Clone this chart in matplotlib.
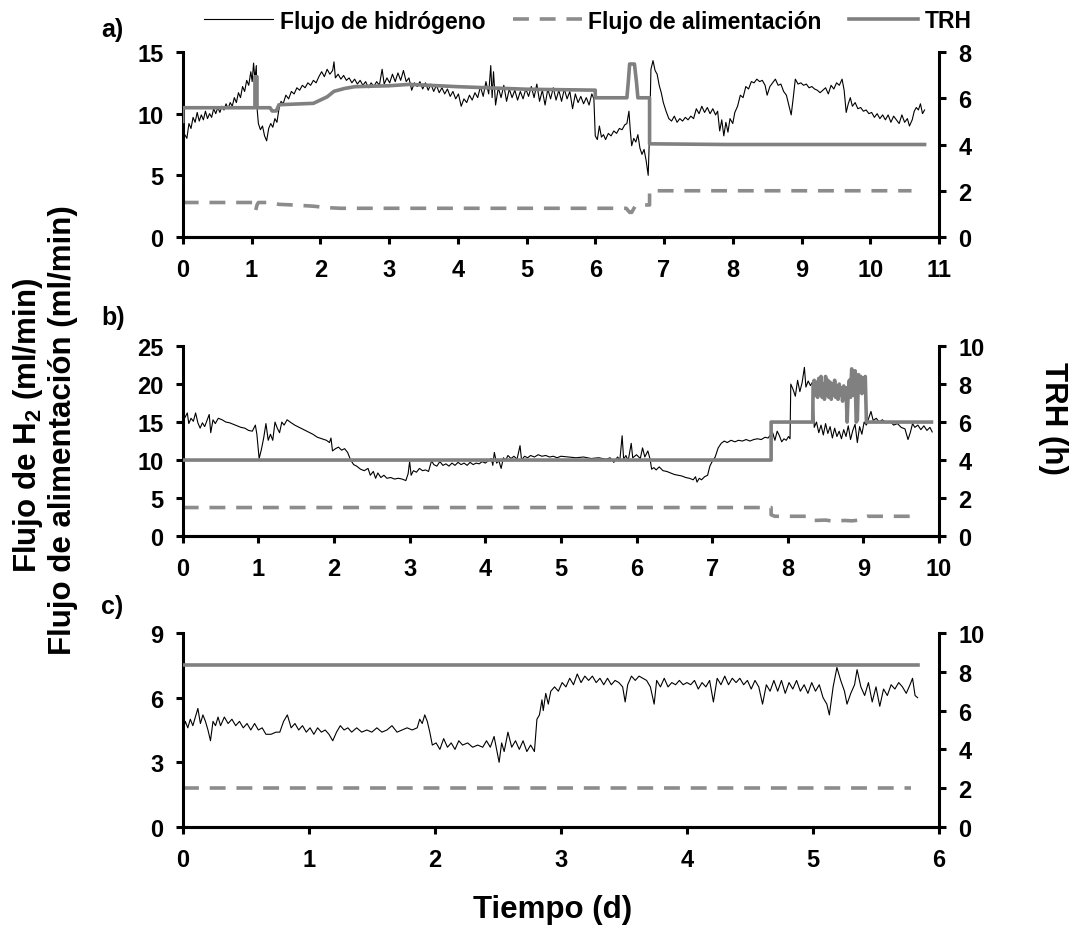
import matplotlib
matplotlib.use("Agg")
import matplotlib.pyplot as plt
from matplotlib.lines import Line2D

plt.rcParams["font.family"] = ["Liberation Sans", "DejaVu Sans"]
plt.rcParams["font.weight"] = "bold"
plt.rcParams["mathtext.fontset"] = "custom"
plt.rcParams["mathtext.rm"] = "Liberation Sans:bold"
plt.rcParams["mathtext.bf"] = "Liberation Sans:bold"

# ---------------- panel a ----------------
a_h2_t = [0.00, 0.03, 0.06, 0.09, 0.12, 0.15, 0.18, 0.21, 0.24, 0.27, 0.30, 0.33, 0.36, 0.39, 0.42,
          0.45, 0.48, 0.51, 0.54, 0.57, 0.60, 0.63, 0.66, 0.69, 0.72, 0.75, 0.78, 0.81, 0.84, 0.87,
          0.90, 0.93, 0.96, 0.99, 1.01, 1.03, 1.05, 1.07, 1.08, 1.10, 1.13, 1.16, 1.19, 1.22, 1.25,
          1.28, 1.31, 1.34, 1.37, 1.40, 1.43, 1.46, 1.50, 1.54, 1.58, 1.62, 1.66, 1.70, 1.74, 1.78,
          1.82, 1.86, 1.90, 1.94, 1.98, 2.02, 2.06, 2.10, 2.14, 2.18, 2.20, 2.22, 2.26, 2.30, 2.34,
          2.38, 2.42, 2.46, 2.50, 2.54, 2.58, 2.62, 2.66, 2.70, 2.74, 2.78, 2.82, 2.86, 2.90, 2.93,
          2.97, 3.01, 3.05, 3.09, 3.13, 3.17, 3.21, 3.25, 3.29, 3.33, 3.37, 3.41, 3.45, 3.49, 3.53,
          3.57, 3.61, 3.65, 3.69, 3.73, 3.77, 3.81, 3.85, 3.89, 3.93, 3.97, 4.01, 4.05, 4.09, 4.13,
          4.17, 4.21, 4.25, 4.29, 4.33, 4.37, 4.41, 4.45, 4.48, 4.50, 4.52, 4.55, 4.59, 4.63, 4.67,
          4.71, 4.75, 4.79, 4.83, 4.87, 4.91, 4.95, 4.99, 5.03, 5.07, 5.11, 5.15, 5.19, 5.23, 5.27,
          5.31, 5.35, 5.39, 5.43, 5.47, 5.51, 5.55, 5.59, 5.63, 5.67, 5.71, 5.75, 5.79, 5.83, 5.87,
          5.91, 5.95, 5.98, 6.00, 6.03, 6.06, 6.09, 6.12, 6.15, 6.19, 6.23, 6.27, 6.31, 6.35, 6.39,
          6.43, 6.46, 6.49, 6.51, 6.53, 6.56, 6.59, 6.62, 6.65, 6.68, 6.71, 6.74, 6.77, 6.79, 6.81,
          6.84, 6.87, 6.90, 6.93, 6.96, 6.99, 7.03, 7.07, 7.11, 7.15, 7.19, 7.23, 7.27, 7.31, 7.35,
          7.39, 7.43, 7.47, 7.51, 7.55, 7.59, 7.63, 7.67, 7.71, 7.75, 7.78, 7.81, 7.84, 7.87, 7.90,
          7.93, 7.96, 8.00, 8.03, 8.07, 8.11, 8.15, 8.19, 8.23, 8.27, 8.31, 8.35, 8.39, 8.43, 8.47,
          8.50, 8.54, 8.58, 8.62, 8.66, 8.70, 8.74, 8.78, 8.82, 8.85, 8.88, 8.91, 8.95, 8.99, 9.03,
          9.07, 9.11, 9.15, 9.19, 9.23, 9.27, 9.31, 9.35, 9.39, 9.43, 9.47, 9.51, 9.55, 9.59, 9.62,
          9.65, 9.68, 9.71, 9.74, 9.78, 9.82, 9.86, 9.90, 9.94, 9.98, 10.02, 10.06, 10.10, 10.14,
          10.18, 10.22, 10.26, 10.30, 10.34, 10.38, 10.42, 10.46, 10.50, 10.54, 10.57, 10.61, 10.64,
          10.67, 10.70, 10.73, 10.76, 10.79]
a_h2 = [7.7, 8.3, 8.0, 9.2, 8.8, 9.7, 9.3, 10.1, 9.4, 9.9, 9.5, 10.2, 9.6, 10.0, 9.7,
        10.4, 10.0, 10.5, 10.1, 10.6, 10.3, 10.8, 10.4, 10.9, 10.6, 11.3, 10.9, 11.7, 11.3, 12.2,
        11.8, 12.7, 12.3, 13.4, 12.6, 14.1, 12.8, 13.9, 10.5, 9.2, 8.7, 9.0, 8.2, 7.8, 8.8,
        9.2, 8.9, 9.6, 9.3, 10.4, 11.0, 10.8, 11.5, 11.2, 11.8, 11.6, 12.1, 11.9, 12.3, 12.1,
        12.5, 12.3, 12.7, 12.5, 13.0, 13.4, 13.0, 13.6, 13.2, 13.5, 14.2, 12.9, 13.2, 12.8, 13.1,
        12.7, 12.9, 12.5, 12.8, 12.4, 12.7, 12.3, 12.6, 12.1, 12.5, 12.2, 12.6, 12.3, 13.6, 12.4,
        12.9, 12.5, 13.2, 12.6, 13.3, 12.7, 13.5, 12.6, 12.9, 11.9, 12.5, 12.2, 12.6, 12.0, 12.5,
        11.9, 12.4, 11.8, 12.3, 11.7, 12.1, 11.6, 12.0, 11.4, 11.8, 11.2, 11.6, 10.6, 11.2, 10.9,
        11.5, 11.1, 11.7, 11.3, 12.2, 11.4, 12.6, 11.6, 13.9, 11.3, 13.4, 10.7, 12.1, 11.3, 12.3,
        11.0, 12.0, 11.3, 11.9, 11.1, 11.8, 11.2, 12.0, 11.4, 12.2, 11.3, 12.4, 11.0, 11.9, 10.7,
        12.0, 11.2, 12.1, 11.1, 11.9, 11.0, 12.0, 11.2, 11.8, 10.4, 11.6, 10.9, 11.4, 10.8, 11.3,
        10.7, 11.6, 11.2, 8.2, 7.9, 9.0, 8.1, 8.3, 7.9, 8.4, 8.2, 8.6, 8.4, 8.8, 8.7,
        9.1, 9.2, 10.2, 8.6, 7.4, 8.0, 7.7, 8.3, 7.2, 6.7, 7.1, 6.2, 5.0, 8.5, 13.6,
        14.3, 13.5, 13.2, 12.3, 11.7, 10.9, 10.2, 9.6, 9.4, 9.8, 9.3, 9.6, 9.4, 9.7, 9.5,
        9.8, 9.6, 10.4, 10.0, 10.6, 10.1, 10.5, 10.0, 10.4, 9.9, 10.2, 8.6, 9.5, 8.2, 9.3,
        8.5, 9.6, 9.2, 10.1, 10.6, 11.5, 11.3, 12.2, 12.0, 12.6, 12.5, 12.8, 12.6, 12.7, 12.3,
        11.5, 12.2, 12.5, 12.8, 12.3, 12.4, 11.8, 11.5, 10.6, 9.9, 11.3, 12.8, 12.4, 12.5, 12.3,
        12.4, 12.1, 12.2, 12.0, 11.9, 11.7, 11.9, 12.1, 11.6, 12.3, 12.0, 12.5, 12.3, 12.8, 11.9,
        10.1, 10.8, 11.3, 10.6, 10.9, 10.4, 10.5, 10.2, 10.3, 10.0, 10.1, 9.7, 10.0, 9.6,
        9.9, 9.5, 9.9, 9.3, 9.8, 9.5, 9.2, 9.9, 9.3, 9.6, 9.0, 9.5, 10.2,
        10.5, 10.3, 10.8, 10.0, 10.3]

a_trh_t = [0, 0, 1.05, 1.05, 1.08, 1.08, 1.27, 1.30, 1.36, 1.40, 1.90, 2.00, 2.10, 2.20, 2.35,
           2.50, 3.00, 3.30, 4.00, 5.00, 6.00, 6.00, 6.46, 6.48, 6.50, 6.57, 6.60, 6.62, 6.79,
           6.79, 7.90, 10.79]
a_trh = [5.0, 5.59, 5.59, 6.93, 6.93, 5.59, 5.59, 5.45, 5.45, 5.72, 5.78, 5.92, 6.06, 6.30, 6.42,
         6.50, 6.54, 6.60, 6.50, 6.39, 6.35, 6.02, 6.02, 6.69, 7.48, 7.48, 6.69, 6.02, 6.02,
         4.03, 4.00, 4.00]

a_feed_t = [0, 1.04, 1.06, 1.08, 1.10, 1.30, 1.40, 1.60, 1.90, 2.10, 2.30, 6.45, 6.50, 6.53,
            6.58, 6.65, 6.79, 6.79, 10.60]
a_feed = [2.8, 2.8, 2.15, 2.6, 2.8, 2.8, 2.65, 2.6, 2.5, 2.38, 2.33, 2.33, 2.0, 2.0,
          2.5, 2.6, 2.6, 3.75, 3.75]

# ---------------- panel b ----------------
b_h2_t = [0.00, 0.03, 0.06, 0.08, 0.11, 0.14, 0.17, 0.20, 0.23, 0.26, 0.29, 0.32, 0.35, 0.37, 0.40,
          0.43, 0.47, 0.52, 0.57, 0.62, 0.67, 0.72, 0.77, 0.82, 0.87, 0.92, 0.96, 0.98, 1.01, 1.04,
          1.07, 1.10, 1.13, 1.16, 1.19, 1.22, 1.25, 1.28, 1.31, 1.34, 1.38, 1.42, 1.48, 1.54, 1.60,
          1.66, 1.72, 1.78, 1.84, 1.90, 1.94, 1.96, 1.98, 2.02, 2.06, 2.10, 2.14, 2.18, 2.22, 2.26,
          2.30, 2.35, 2.40, 2.45, 2.48, 2.52, 2.55, 2.58, 2.62, 2.66, 2.70, 2.75, 2.80, 2.85, 2.90,
          2.95, 2.98, 3.00, 3.02, 3.05, 3.09, 3.13, 3.17, 3.21, 3.25, 3.29, 3.32, 3.36, 3.40, 3.44,
          3.48, 3.52, 3.56, 3.60, 3.64, 3.68, 3.72, 3.76, 3.80, 3.84, 3.88, 3.92, 3.96, 4.00, 4.04,
          4.08, 4.10, 4.12, 4.15, 4.18, 4.21, 4.24, 4.27, 4.30, 4.34, 4.38, 4.42, 4.46, 4.48, 4.52,
          4.56, 4.60, 4.65, 4.70, 4.75, 4.80, 4.85, 4.90, 4.95, 5.00, 5.10, 5.20, 5.30, 5.40, 5.50,
          5.60, 5.65, 5.70, 5.75, 5.78, 5.81, 5.83, 5.86, 5.89, 5.93, 5.95, 6.00, 6.05, 6.08, 6.11,
          6.15, 6.18, 6.20, 6.23, 6.26, 6.30, 6.35, 6.40, 6.45, 6.50, 6.55, 6.60, 6.65, 6.70, 6.75,
          6.78, 6.80, 6.83, 6.86, 6.90, 6.94, 6.97, 7.00, 7.04, 7.08, 7.12, 7.16, 7.20, 7.25, 7.30,
          7.35, 7.40, 7.45, 7.50, 7.55, 7.60, 7.65, 7.70, 7.74, 7.77, 7.80, 7.83, 7.86, 7.89, 7.92,
          7.95, 7.98, 8.01, 8.03, 8.04, 8.07, 8.10, 8.13, 8.16, 8.19, 8.22, 8.24, 8.27, 8.30, 8.33,
          8.35, 8.38, 8.41, 8.44, 8.47, 8.50, 8.53, 8.56, 8.59, 8.62, 8.65, 8.68, 8.71, 8.74, 8.77,
          8.80, 8.83, 8.86, 8.89, 8.92, 8.95, 8.98, 9.01, 9.04, 9.07, 9.10, 9.13, 9.17, 9.21, 9.25,
          9.30, 9.35, 9.40, 9.45, 9.50, 9.55, 9.59, 9.62, 9.65, 9.68, 9.72, 9.76, 9.80, 9.84, 9.88,
          9.91]
b_h2 = [16.5, 15.6, 16.2, 14.8, 15.5, 15.1, 16.2, 14.9, 14.2, 14.9, 14.4, 15.2, 16.0, 13.6, 15.3,
        14.8, 15.5, 15.3, 15.0, 14.9, 14.7, 14.5, 14.3, 14.2, 13.9, 13.8, 14.6, 13.4, 10.2, 11.4,
        12.9, 14.8, 12.6, 13.4, 12.6, 15.0, 14.2, 13.6, 15.0, 14.6, 15.3, 15.0, 14.6, 14.3, 14.0,
        13.7, 13.4, 13.0, 12.8, 12.6, 12.3, 12.9, 11.2, 11.5, 11.7, 11.3, 11.5, 11.0, 10.0, 9.4,
        9.2, 8.8, 8.6, 8.9, 8.0, 8.5, 7.6, 8.3, 7.7, 8.0, 7.6, 7.7, 7.5, 7.6, 7.5,
        7.3, 8.2, 9.8, 8.0, 8.6, 8.4, 8.9, 8.6, 8.7, 8.5, 9.9, 9.4, 9.2, 9.8, 9.3,
        9.5, 9.2, 9.6, 9.3, 9.7, 9.4, 9.6, 9.3, 9.7, 9.4, 9.6, 9.5, 9.8, 9.6, 9.9,
        10.2, 9.3, 11.0, 9.6, 9.9, 8.9, 10.3, 10.0, 10.6, 10.2, 10.5, 10.1, 11.9, 10.0, 10.5,
        10.3, 10.6, 10.4, 10.7, 10.5, 10.6, 10.4, 10.5, 10.3, 10.5, 10.4, 10.3, 10.4, 10.2, 10.3,
        10.1, 10.3, 9.7, 10.4, 10.0, 13.2, 10.1, 10.6, 9.9, 12.2, 10.3, 10.7, 10.2, 11.6, 10.4,
        11.2, 10.1, 8.8, 9.0, 8.7, 9.1, 8.6, 8.5, 8.3, 8.1, 8.0, 7.9, 7.7, 7.6, 7.4,
        7.8, 7.1, 7.6, 7.4, 7.8, 8.0, 9.2, 9.8, 10.4, 11.6, 12.2, 12.5, 12.3, 12.6, 12.4,
        12.6, 12.5, 12.7, 12.5, 12.7, 12.8, 12.7, 13.0, 12.9, 13.3, 13.6, 12.6, 13.8, 13.2, 12.4,
        12.8, 12.6, 13.1, 12.8, 20.0, 19.3, 18.4, 20.5, 19.0, 20.2, 22.2, 19.6, 20.4, 19.8, 20.3,
        14.3, 15.0, 13.6, 14.6, 13.3, 14.8, 13.5, 14.4, 12.9, 14.2, 13.1, 13.8, 12.8, 14.0, 13.1,
        14.5, 12.7, 13.9, 14.7, 12.3, 14.4, 13.4, 15.0, 14.6, 15.5, 16.4, 15.2, 15.5, 15.0, 15.3,
        14.9, 15.1, 14.6, 14.8, 14.3, 14.1, 12.7, 13.6, 14.8, 14.3, 14.6, 14.0, 14.5, 13.9, 14.3,
        13.7]

b_trh_t = [0, 7.78, 7.78, 8.33, 8.33, 8.335, 8.35, 8.365, 8.38, 8.395, 8.41, 8.425, 8.44, 8.455,
           8.47, 8.485, 8.50, 8.515, 8.53, 8.545, 8.56, 8.575, 8.59, 8.605, 8.62, 8.635, 8.65,
           8.665, 8.68, 8.695, 8.71, 8.725, 8.74, 8.755, 8.77, 8.785, 8.80, 8.815, 8.83, 8.845,
           8.86, 8.875, 8.89, 8.905, 8.92, 8.935, 8.95, 8.965, 8.98, 8.995, 9.01, 9.025, 9.04,
           9.05, 9.90]
b_trh = [4.0, 4.0, 6.0, 6.0, 6.0, 7.9, 8.2, 7.4, 8.1, 7.3, 8.3, 7.5, 8.4, 7.3,
         8.0, 7.2, 8.4, 7.4, 8.2, 7.3, 8.1, 7.2, 8.0, 7.4, 8.2, 7.3, 7.9,
         7.2, 8.0, 7.4, 7.8, 7.1, 7.9, 7.3, 7.8, 6.0, 7.7, 8.2, 7.3, 8.8,
         8.6, 7.4, 8.7, 6.0, 6.1, 8.5, 7.6, 8.4, 7.5, 8.3, 7.6, 8.4, 6.0,
         6.0, 6.0]

b_feed_t = [0, 7.78, 7.78, 7.83, 8.30, 8.35, 8.50, 8.60, 8.75, 8.85, 8.95, 9.02, 9.05, 9.66]
b_feed = [3.75, 3.75, 2.8, 2.6, 2.6, 2.05, 2.1, 1.95, 2.05, 2.0, 2.1, 2.5, 2.6, 2.6]

# ---------------- panel c ----------------
c_h2_t = [0.00, 0.02, 0.04, 0.06, 0.08, 0.10, 0.12, 0.14, 0.16, 0.18, 0.20, 0.22, 0.24, 0.26, 0.28,
          0.30, 0.33, 0.36, 0.39, 0.42, 0.45, 0.48, 0.51, 0.54, 0.57, 0.60, 0.63, 0.66, 0.70, 0.74,
          0.77, 0.80, 0.83, 0.86, 0.89, 0.92, 0.95, 0.98, 1.01, 1.04, 1.07, 1.10, 1.13, 1.16, 1.19,
          1.22, 1.25, 1.28, 1.31, 1.34, 1.38, 1.42, 1.46, 1.50, 1.54, 1.58, 1.62, 1.66, 1.70, 1.74,
          1.78, 1.82, 1.86, 1.88, 1.90, 1.92, 1.94, 1.96, 1.98, 2.01, 2.04, 2.07, 2.10, 2.13, 2.16,
          2.19, 2.22, 2.26, 2.30, 2.34, 2.38, 2.41, 2.44, 2.47, 2.49, 2.51, 2.53, 2.55, 2.58, 2.61,
          2.64, 2.67, 2.70, 2.73, 2.76, 2.79, 2.81, 2.83, 2.85, 2.86, 2.88, 2.90, 2.92, 2.95, 2.98,
          3.01, 3.04, 3.07, 3.10, 3.13, 3.16, 3.19, 3.22, 3.25, 3.28, 3.31, 3.34, 3.37, 3.40, 3.43,
          3.46, 3.49, 3.51, 3.53, 3.56, 3.59, 3.62, 3.65, 3.68, 3.71, 3.74, 3.76, 3.79, 3.82, 3.85,
          3.88, 3.91, 3.94, 3.97, 4.00, 4.03, 4.06, 4.09, 4.12, 4.15, 4.18, 4.21, 4.24, 4.27, 4.30,
          4.33, 4.36, 4.39, 4.42, 4.45, 4.48, 4.51, 4.54, 4.57, 4.60, 4.63, 4.66, 4.69, 4.72, 4.75,
          4.78, 4.81, 4.84, 4.87, 4.90, 4.93, 4.96, 4.99, 5.02, 5.05, 5.08, 5.11, 5.13, 5.16, 5.19,
          5.22, 5.25, 5.27, 5.30, 5.33, 5.35, 5.38, 5.41, 5.44, 5.47, 5.50, 5.53, 5.56, 5.59, 5.62,
          5.65, 5.68, 5.71, 5.74, 5.77, 5.79, 5.81, 5.83]
c_h2 = [4.4, 4.9, 4.6, 5.0, 4.7, 5.1, 5.5, 4.8, 5.2, 4.9, 4.5, 4.0, 4.9, 4.7, 5.1,
        4.7, 5.1, 4.8, 5.0, 4.7, 4.9, 4.6, 4.8, 4.5, 4.8, 4.5, 4.6, 4.3, 4.3, 4.4,
        4.4, 4.9, 5.2, 4.6, 4.8, 4.5, 4.7, 4.4, 4.6, 4.3, 4.6, 4.4, 4.5, 4.3, 4.0,
        4.4, 4.7, 4.5, 4.6, 4.4, 4.6, 4.4, 4.5, 4.4, 4.6, 4.4, 4.5, 4.7, 4.4, 4.5,
        4.6, 4.5, 4.6, 5.0, 4.8, 5.2, 4.9, 4.4, 3.8, 3.9, 3.6, 4.1, 3.7, 3.9, 3.6,
        4.0, 3.8, 3.9, 3.7, 3.8, 3.7, 4.0, 3.7, 4.2, 3.6, 3.0, 3.9, 3.5, 4.4, 3.7,
        4.0, 3.6, 4.0, 3.5, 3.8, 3.5, 5.0, 5.2, 5.9, 5.4, 6.2, 5.7, 6.3, 6.5, 6.3,
        6.7, 6.5, 6.9, 6.6, 7.1, 6.7, 7.0, 6.8, 7.0, 6.7, 6.9, 6.6, 6.9, 6.6, 6.8,
        6.7, 6.5, 5.8, 6.6, 7.0, 6.8, 7.0, 6.9, 6.8, 6.5, 5.7, 6.8, 6.5, 6.9, 6.5,
        6.7, 6.6, 6.8, 6.6, 6.7, 6.6, 6.8, 6.4, 6.7, 6.5, 6.8, 5.8, 6.9, 6.6, 7.0,
        6.6, 6.9, 6.7, 6.9, 6.6, 6.8, 6.4, 6.8, 6.5, 5.7, 6.6, 6.3, 6.8, 6.3, 6.8,
        6.2, 6.7, 6.4, 6.8, 6.3, 6.6, 6.2, 6.7, 6.3, 6.6, 6.0, 5.7, 5.2, 6.5, 7.4,
        6.8, 6.3, 5.7, 6.2, 6.6, 7.3, 6.5, 6.1, 6.7, 5.8, 6.5, 5.6, 6.4, 6.1, 6.6,
        6.4, 6.7, 6.5, 6.2, 6.6, 6.9, 6.1, 6.0]

c_trh_t = [0, 5.83]
c_trh = [8.33, 8.33]
c_feed_t = [0, 5.78]
c_feed = [1.8, 1.8]

a_yticks = [0, 5, 10, 15]
a_y2ticks = [0, 2, 4, 6, 8]
a_xticks = list(range(0, 12))
b_yticks = [0, 5, 10, 15, 20, 25]
b_y2ticks = [0, 2, 4, 6, 8, 10]
b_xticks = list(range(0, 11))
c_yticks = [0, 3, 6, 9]
c_y2ticks = [0, 2, 4, 6, 8, 10]
c_xticks = list(range(0, 7))

H2_COLOR = "black"
TRH_COLOR = "#808080"
FEED_COLOR = "#8c8c8c"
SPINE_W = 2.2
TICK_FS = 17
DASHES = (4.4, 3.0)

fig = plt.figure(figsize=(10.75, 9.28), dpi=100)

panels = [
    ([0.170, 0.7435, 0.7035, 0.1994], a_h2_t, a_h2, a_trh_t, a_trh, a_feed_t, a_feed,
     a_yticks, a_y2ticks, a_xticks, "a)", 30),
    ([0.170, 0.4213, 0.7035, 0.2047], b_h2_t, b_h2, b_trh_t, b_trh, b_feed_t, b_feed,
     b_yticks, b_y2ticks, b_xticks, "b)", 318),
    ([0.170, 0.1078, 0.7035, 0.2090], c_h2_t, c_h2, c_trh_t, c_trh, c_feed_t, c_feed,
     c_yticks, c_y2ticks, c_xticks, "c)", 607),
]

for rect, ht, hv, tt, tv, ft, fv, yt, y2t, xt, lab, lab_y in panels:
    ax = fig.add_axes(rect)
    ax.plot(ft, fv, color=FEED_COLOR, lw=2.6, dashes=DASHES)
    ax.plot(ht, hv, color=H2_COLOR, lw=0.8)
    ax.set_xlim(xt[0], xt[-1])
    ax.set_ylim(yt[0], yt[-1])
    ax.set_xticks(xt)
    ax.set_yticks(yt)
    ax2 = ax.twinx()
    ax2.plot(tt, tv, color=TRH_COLOR, lw=2.6)
    ax2.set_ylim(y2t[0], y2t[-1])
    ax2.set_yticks(y2t)
    for a in (ax, ax2):
        a.spines["top"].set_visible(False)
        for s in ("left", "right", "bottom"):
            a.spines[s].set_linewidth(SPINE_W)
        a.tick_params(width=SPINE_W, length=5, labelsize=TICK_FS)
        a.tick_params(axis="y", pad=9)
    ax.tick_params(axis="x", pad=10)
    ax.spines["right"].set_visible(False)
    ax2.spines["left"].set_visible(False)
    for t in ax.get_xticklabels() + ax.get_yticklabels() + ax2.get_yticklabels():
        t.set_fontweight("bold")
    fig.text(101 / 1075, 1 - lab_y / 928, lab, fontsize=18, fontweight="bold",
             ha="left", va="center")

# axis titles
fig.text(28 / 1075, 1 - 425 / 928, r"Flujo de H$_\mathbf{2}$ (ml/min)", rotation=90,
         fontsize=22.5, fontweight="bold", ha="center", va="center")
fig.text(63 / 1075, 1 - 430 / 928, "Flujo de alimentación (ml/min)", rotation=90,
         fontsize=22.5, fontweight="bold", ha="center", va="center")
fig.text(1053 / 1075, 1 - 418 / 928, "TRH (h)", rotation=270,
         fontsize=22.5, fontweight="bold", ha="center", va="center")
fig.text(553 / 1075, 1 - 910 / 928, "Tiempo (d)",
         fontsize=22.5, fontweight="bold", ha="center", va="center")

handles = [
    Line2D([], [], color=H2_COLOR, lw=0.8),
    Line2D([], [], color=FEED_COLOR, lw=2.6, dashes=DASHES),
    Line2D([], [], color=TRH_COLOR, lw=2.6),
]
labels = ["Flujo de hidrógeno", "Flujo de alimentación", "TRH"]
fig.legend(handles, labels, loc="center", bbox_to_anchor=(588 / 1075, 1 - 22 / 928), ncol=3,
           frameon=False, prop={"weight": "bold", "size": 16.5}, handlelength=3.0,
           handletextpad=0.3, columnspacing=1.2, borderpad=0, borderaxespad=0)

fig.savefig("out.png", dpi=100)
